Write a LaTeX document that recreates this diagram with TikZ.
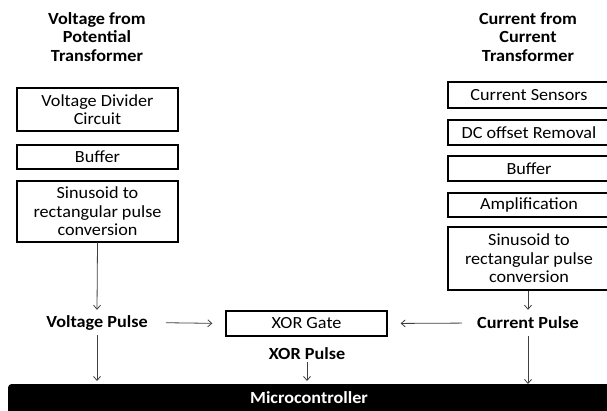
\documentclass[tikz,border=0pt]{standalone}
\usepackage{fontspec}
\setmainfont{Carlito}[FakeStretch=1.07]
\usetikzlibrary{arrows.meta}
\definecolor{arrgray}{HTML}{404040}
\tikzset{
  blk/.style={draw=black, line width=1.3pt, inner sep=0pt, align=center, font=\fontsize{17}{18.5}\selectfont},
  lbl/.style={inner sep=0pt, align=center, font=\fontsize{17}{18.5}\selectfont\bfseries},
  conn/.style={draw=arrgray, line width=0.8pt, -{Straight Barb[length=4pt,width=7pt]}},
}
\begin{document}
\begin{tikzpicture}[x=1pt,y=-1pt]
\useasboundingbox (0,0) rectangle (607,411);
% titles
\node[lbl] (vtitle) at (97,37) {Voltage from\\Potential\\Transformer};
\node[lbl] (ctitle) at (528,37) {Current from\\Current\\Transformer};
% left stack
\node[blk, minimum width=161pt, minimum height=43pt] (vdiv) at (97.5,109.5) {Voltage Divider\\Circuit};
\node[blk, minimum width=161pt, minimum height=24pt] (vbuf) at (97.5,157) {Buffer};
\node[blk, minimum width=161pt, minimum height=61pt] (vsin) at (97.5,211.5) {Sinusoid to\\rectangular pulse\\conversion};
% right stack
\node[blk, minimum width=162pt, minimum height=26pt] (csens) at (529,95) {Current Sensors};
\node[blk, minimum width=162pt, minimum height=25pt] (cdc) at (529,132.5) {DC offset Removal};
\node[blk, minimum width=162pt, minimum height=25pt] (cbuf) at (529,168.5) {Buffer};
\node[blk, minimum width=162pt, minimum height=24pt] (camp) at (529,205) {Amplification};
\node[blk, minimum width=162pt, minimum height=63pt] (csin) at (529,258.5) {Sinusoid to\\rectangular pulse\\conversion};
% middle row
\node[lbl, minimum height=25pt] (vpulse) at (97,322.5) {Voltage Pulse};
\node[lbl, minimum height=26pt] (cpulse) at (528,323) {Current Pulse};
\node[blk, minimum width=161pt, minimum height=25pt] (xor) at (306.5,323.5) {XOR Gate};
\node[lbl, minimum height=16pt] (xpulse) at (307,354) {XOR Pulse};
% microcontroller bar
\node[fill=black, rounded corners=3pt, minimum width=604pt, minimum height=32pt, inner sep=0pt, anchor=north west] (mc) at (8,384) {};
\node[text=white, inner sep=0pt, font=\fontsize{17}{18.5}\selectfont\bfseries] (mclabel) at (309,397.5) {Microcontroller};
% connectors
\draw[conn] (vsin.south) -- (vpulse.north);
\draw[conn] (cpulse.north |- csin.south) -- (cpulse.north);
\draw[conn, shorten <=18pt, shorten >=13pt] (vpulse.east) -- (xor.west);
\draw[conn, shorten <=15pt, shorten >=13pt] (cpulse.west) -- (xor.east);
\draw[conn, shorten >=3pt] (vpulse.south) -- (vpulse.south |- mc.north);
\draw[conn, shorten >=3pt] (xpulse.south) -- (xpulse.south |- mc.north);
\draw[conn] (cpulse.south) -- (cpulse.south |- mc.north);
\end{tikzpicture}
\end{document}
